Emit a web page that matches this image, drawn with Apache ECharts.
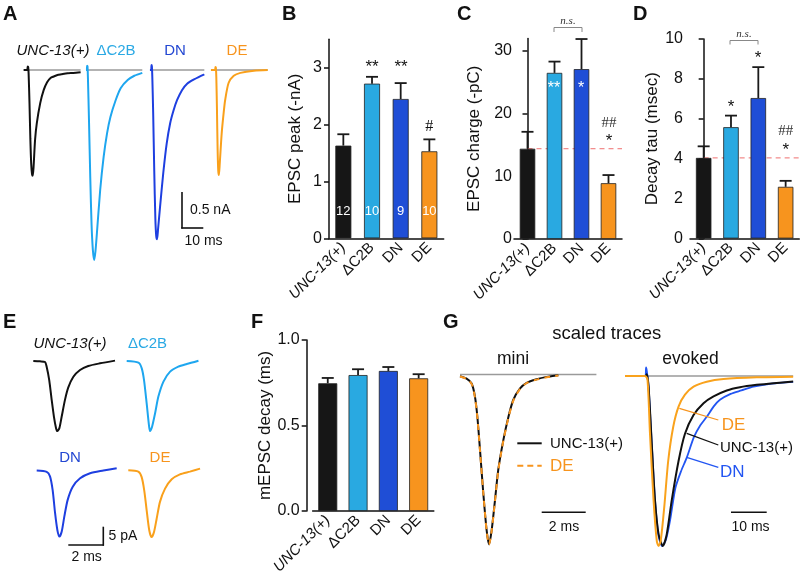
<!DOCTYPE html>
<html><head><meta charset="utf-8">
<script src="https://cdn.jsdelivr.net/npm/echarts@6/dist/echarts.min.js"></script>
<style>html,body{margin:0;padding:0;background:#fff}#c{width:800px;height:573px}</style>
</head><body><div id="c"></div>
<script>
// ---------- DATA ----------
const groups = ['UNC-13(+)', 'ΔC2B', 'DN', 'DE'];
const nCells = [12, 10, 9, 10];
const peakMean = [1.63, 2.72, 2.45, 1.53];
const peakSem = [0.20, 0.12, 0.28, 0.21];
const chargeMean = [14.4, 26.5, 27.1, 8.9];
const chargeSem = [2.7, 1.8, 4.8, 1.3];
const tauMean = [4.04, 5.58, 7.04, 2.59];
const tauSem = [0.58, 0.58, 1.55, 0.30];
const mDecayMean = [0.747, 0.795, 0.819, 0.776];
const mDecaySem = [0.031, 0.034, 0.023, 0.024];
const peakTicks = [0, 1, 2, 3];
const chargeTicks = [0, 10, 20, 30];
const tauTicks = [0, 2, 4, 6, 8, 10];
const mDecayTicks = [0, 0.5, 1.0];

// Panel A: evoked EPSC traces (time ms from stimulus, current nA)
const uncEPSC = [[-2.0,0],[-0.4,0],[-0.1,0.05],[0.1,0.04],[0.3,-0.05],[0.7,-0.45],[1.1,-0.95],[1.5,-1.3],[1.9,-1.45],[2.2,-1.47],[2.6,-1.35],[3.3,-0.97],[4.1,-0.74],[5.7,-0.46],[7.3,-0.28],[8.9,-0.17],[10.5,-0.11],[12.0,-0.09],[13.7,-0.07],[15.5,-0.06],[18.4,-0.045],[21.0,-0.04],[24.5,-0.03]];
const dc2bEPSC = [[-0.6,0],[-0.2,0],[-0.1,0.06],[0.1,0.05],[0.3,-0.1],[0.8,-0.7],[1.4,-1.5],[2.0,-2.15],[2.6,-2.5],[3.2,-2.64],[3.8,-2.52],[4.5,-2.26],[6.0,-1.67],[7.6,-1.21],[9.2,-0.88],[10.8,-0.65],[13.2,-0.42],[15.6,-0.25],[18.8,-0.14],[21.9,-0.08],[25.6,-0.04]];
const dnEPSC = [[-0.8,0],[-0.2,0],[-0.1,0.07],[0.1,0.05],[0.3,-0.1],[0.7,-0.6],[1.2,-1.4],[1.7,-2.05],[2.1,-2.3],[2.5,-2.35],[3.0,-2.2],[3.9,-1.9],[5.4,-1.43],[7.0,-1.02],[8.6,-0.74],[10.2,-0.56],[11.8,-0.42],[14.1,-0.28],[16.5,-0.19],[19.7,-0.13],[24.5,-0.06]];
const deEPSC = [[-2.2,0],[-0.3,0],[-0.1,0.04],[0.1,0.03],[0.3,-0.1],[0.6,-0.55],[0.9,-1.1],[1.2,-1.4],[1.5,-1.46],[1.9,-1.3],[2.8,-0.88],[3.7,-0.6],[4.4,-0.42],[6.0,-0.18],[8.4,-0.08],[11.5,-0.04],[17.8,-0.01],[24.2,0]];

// Panel E: mEPSC traces (time ms, current pA)
const uncMini = [[0,0],[0.38,-0.1],[0.67,-0.27],[0.76,-1.5],[0.91,-5.2],[1.05,-10.6],[1.18,-15.2],[1.30,-18.3],[1.37,-19.1],[1.49,-18.3],[1.62,-15.2],[1.81,-10.6],[2.0,-7.2],[2.29,-4.3],[2.67,-2.45],[3.14,-1.36],[3.81,-0.64],[4.67,0.1]];
const dc2bMini = [[0,0],[0.67,-0.45],[0.86,-2.0],[0.99,-5.2],[1.14,-11.5],[1.26,-17.0],[1.33,-19.1],[1.45,-17.9],[1.62,-14.3],[1.81,-9.7],[2.10,-5.6],[2.48,-2.9],[2.95,-1.55],[3.43,-0.82],[4.10,0.09]];
const dnMini = [[0,0],[0.57,-0.36],[0.76,-1.6],[0.91,-5.3],[1.05,-11.6],[1.18,-16.2],[1.30,-18.0],[1.43,-16.6],[1.58,-12.5],[1.77,-8.0],[2.06,-4.4],[2.48,-2.1],[3.05,-0.73],[3.81,0],[4.57,0.64]];
const deMini = [[0,0],[0.57,-0.36],[0.76,-1.8],[0.91,-5.45],[1.05,-10.9],[1.20,-16.4],[1.33,-18.2],[1.47,-16.8],[1.62,-13.2],[1.81,-8.6],[2.10,-5.0],[2.48,-2.45],[2.95,-1.1],[3.52,-0.36],[4.10,0.45]];

// Panel G: scaled traces (time ms, normalized amplitude)
const miniBaseline = [[0,0],[6.2,0]];
const uncMiniScaled = [[0,-0.01],[0.30,-0.024],[0.53,-0.053],[0.68,-0.13],[0.79,-0.25],[0.91,-0.445],[1.06,-0.70],[1.21,-0.916],[1.32,-1.0],[1.44,-0.916],[1.59,-0.74],[1.74,-0.56],[1.97,-0.386],[2.20,-0.25],[2.42,-0.15],[2.73,-0.082],[3.03,-0.049],[3.48,-0.028],[3.94,-0.014],[4.47,-0.004]];
const deMiniScaled = [[0,-0.012],[0.30,-0.026],[0.53,-0.055],[0.68,-0.135],[0.79,-0.255],[0.91,-0.45],[1.06,-0.70],[1.21,-0.92],[1.32,-1.0],[1.44,-0.92],[1.59,-0.745],[1.74,-0.565],[1.97,-0.39],[2.20,-0.255],[2.42,-0.155],[2.73,-0.085],[3.03,-0.05],[3.48,-0.03],[3.94,-0.016],[4.47,-0.006]];
const evokedBaseline = [[-6.1,0],[41,0]];
const uncEvoked = [[-6.1,0],[-0.3,0],[0,0.01],[0.5,-0.06],[1.4,-0.40],[2.3,-0.73],[3.3,-0.93],[4.5,-1.0],[5.6,-0.93],[7.0,-0.73],[8.9,-0.50],[10.7,-0.34],[13.1,-0.23],[15.9,-0.16],[18.7,-0.12],[22.4,-0.085],[26.1,-0.066],[30.8,-0.052],[35.5,-0.042],[41,-0.033]];
const dnEvoked = [[-6.1,0],[-0.4,0],[-0.2,0.05],[0,0.03],[0.5,-0.06],[1.4,-0.40],[2.3,-0.73],[3.3,-0.94],[4.3,-1.0],[5.4,-0.96],[6.6,-0.84],[8.0,-0.66],[9.6,-0.56],[11.2,-0.48],[13.2,-0.36],[15.0,-0.29],[16.8,-0.24],[18.7,-0.18],[20.5,-0.14],[23.5,-0.105],[26.5,-0.085],[29.9,-0.063],[35,-0.045],[41,-0.034]];
const deEvoked = [[-6.1,0],[-0.5,0],[0.2,-0.02],[0.9,-0.34],[1.9,-0.73],[2.8,-0.97],[3.3,-1.0],[3.9,-0.97],[4.9,-0.77],[6.0,-0.50],[7.4,-0.30],[8.9,-0.18],[10.7,-0.11],[13.1,-0.063],[16.8,-0.034],[21.5,-0.018],[30.8,-0.008],[41,-0.004]];

// ---------- STYLE ----------
const FONT = '"Liberation Sans", Arial, Helvetica, sans-serif';
const SERIF = '"Liberation Serif", "Times New Roman", serif';
const barColors = ['#161616', '#29a9e1', '#1f4ed6', '#f7941e'];
const traceColors = ['#111111', '#1ea6ef', '#1e3fe0', '#f9a01b'];
const labelColors = ['#111111', '#2aa9e4', '#2347d2', '#f7941d'];
const GRAY = '#9a9a9a';

const grids = [], xAxes = [], yAxes = [], series = [], graphics = [];
function addGrid(g) { grids.push(Object.assign({ outerBoundsMode: 'none', containLabel: false }, g)); return grids.length - 1; }

function errRender(params, api) {
  const i = api.value(0), m = api.value(1), s = api.value(2);
  const base = api.coord([i, m]);
  const top = api.coord([i, m + s]);
  const hw = 6;
  const st = { stroke: '#1a1a1a', lineWidth: 1.8 };
  return { type: 'group', children: [
    { type: 'line', shape: { x1: base[0], y1: base[1], x2: top[0], y2: top[1] }, style: st },
    { type: 'line', shape: { x1: top[0] - hw, y1: top[1], x2: top[0] + hw, y2: top[1] }, style: st }
  ]};
}

function barPanel(cfg) {
  const gi = addGrid({ left: cfg.left, top: cfg.top, width: cfg.width, height: cfg.height });
  const xi = xAxes.length;
  xAxes.push({
    type: 'category', gridIndex: gi, data: groups,
    axisLine: { lineStyle: { color: '#111', width: 1.5 } },
    axisTick: { show: false },
    axisLabel: {
      rotate: 45, interval: 0, margin: 7, fontSize: 15, color: '#111', fontFamily: FONT,
      formatter: v => v === 'UNC-13(+)' ? '{it|' + v + '}' : v,
      rich: { it: { fontStyle: 'italic', fontSize: 15, color: '#111', fontFamily: FONT } }
    }
  });
  const yi = yAxes.length;
  yAxes.push({
    type: 'value', gridIndex: gi, min: 0, max: cfg.max, offset: cfg.offset || 0,
    axisLine: { show: true, lineStyle: { color: '#111', width: 1.5 } },
    axisTick: { show: true, length: 5, lineStyle: { color: '#111', width: 1.5 }, customValues: cfg.ticks },
    axisLabel: { customValues: cfg.ticks, fontSize: 16, color: '#111', fontFamily: FONT, margin: 7,
      formatter: cfg.fmt || (v => String(v)) },
    splitLine: { show: false },
    name: cfg.name, nameLocation: 'middle', nameGap: cfg.nameGap,
    nameTextStyle: { fontSize: 17, color: '#111', fontFamily: FONT }
  });
  series.push({
    type: 'bar', xAxisIndex: xi, yAxisIndex: yi, barWidth: cfg.barWidth, z: 3,
    data: cfg.mean.map((v, i) => ({ value: v, itemStyle: { color: barColors[i] } })),
    itemStyle: { borderColor: '#222', borderWidth: 0.8 },
    label: cfg.label || { show: false }
  });
  series.push({
    type: 'custom', xAxisIndex: xi, yAxisIndex: yi, renderItem: errRender, z: 4,
    encode: { x: 0, y: 1 },
    data: cfg.mean.map((v, i) => [i, v, cfg.sem[i]])
  });
  if (cfg.refLine) {
    const hx = xAxes.length;
    xAxes.push({ type: 'value', gridIndex: gi, min: -0.5, max: 3.5, show: false });
    series.push({
      type: 'line', xAxisIndex: hx, yAxisIndex: yi, z: 1, symbol: 'none',
      data: [[0, cfg.mean[0]], [3.5, cfg.mean[0]]],
      lineStyle: { color: '#ef6f6f', width: 1, type: [5, 4] }
    });
  }
}

// B
barPanel({ left: 329, top: 39.3, width: 114.7, height: 199, max: 3.5, ticks: peakTicks, mean: peakMean, sem: peakSem,
  name: 'EPSC peak (-nA)', nameGap: 25, barWidth: 16,
  label: { show: true, position: 'insideBottom', distance: 20, color: '#fff', fontSize: 13, fontFamily: FONT,
    formatter: p => String(nCells[p.dataIndex]) } });
// C
barPanel({ left: 514, top: 38.4, width: 108, height: 200.6, max: 32, offset: -5, ticks: chargeTicks, mean: chargeMean, sem: chargeSem,
  name: 'EPSC charge (-pC)', nameGap: 36, barWidth: 15.5, refLine: true });
// D
barPanel({ left: 690, top: 39, width: 109.3, height: 199.5, max: 10, ticks: tauTicks, mean: tauMean, sem: tauSem,
  name: 'Decay tau (msec)', nameGap: 29, barWidth: 15.5, refLine: true });
// F
barPanel({ left: 312.6, top: 340, width: 121.2, height: 171, max: 1.0, offset: 5.9, ticks: mDecayTicks, mean: mDecayMean, sem: mDecaySem,
  name: 'mEPSC decay (ms)', nameGap: 33, barWidth: 19, fmt: v => v.toFixed(1) });

function tracePanel(cfg) {
  const gi = addGrid({ left: cfg.left, top: cfg.top, width: cfg.width, height: cfg.height });
  const xi = xAxes.length;
  xAxes.push({ type: 'value', gridIndex: gi, min: cfg.xmin, max: cfg.xmax, show: false });
  const yi = yAxes.length;
  yAxes.push({ type: 'value', gridIndex: gi, min: cfg.ymin, max: cfg.ymax, show: false });
  cfg.lines.forEach((ln, k) => {
    series.push({
      type: 'line', xAxisIndex: xi, yAxisIndex: yi, data: ln.data, symbol: 'none',
      smooth: ln.smooth === undefined ? 0.25 : ln.smooth, z: ln.z || (5 + k), clip: false,
      lineStyle: { color: ln.color, width: ln.width || 2, type: ln.type || 'solid' }
    });
  });
}
function baselineOf(d) { return [[d[0][0], 0], [d[d.length - 1][0], 0]]; }

// A: 2.15 px/ms, 72 px/nA, baseline y=70
const aTraces = [uncEPSC, dc2bEPSC, dnEPSC, deEPSC];
const aLeft = [22.6, 81.9, 146.3, 210.3];
aTraces.forEach((d, i) => {
  tracePanel({ left: aLeft[i], top: 55.6, width: 59.1, height: 216, xmin: -2.5, xmax: 25, ymin: -2.8, ymax: 0.2,
    lines: [
      { data: baselineOf(d), color: GRAY, width: 1.6, smooth: false, z: 4 },
      { data: d, color: traceColors[i], width: 2 }
    ] });
});

// E: 17.5 px/ms, 3.67 px/pA
const eTraces = [uncMini, dc2bMini, dnMini, deMini];
const eLeft = [33.3, 126.7, 36.7, 128.3];
const eBase = [361, 361, 470.5, 470.3];
eTraces.forEach((d, i) => {
  tracePanel({ left: eLeft[i], top: eBase[i] - 2 * 3.67, width: 87.5, height: 24 * 3.67, xmin: 0, xmax: 5, ymin: -22, ymax: 2,
    lines: [{ data: d, color: traceColors[i], width: 2 }] });
});

// G mini: 22 px/ms, 170 px per unit
tracePanel({ left: 460, top: 374.5 - 0.05 * 170, width: 6.2 * 22, height: 1.07 * 170, xmin: 0, xmax: 6.2, ymin: -1.02, ymax: 0.05,
  lines: [
    { data: miniBaseline, color: GRAY, width: 1.5, smooth: false, z: 4 },
    { data: uncMiniScaled, color: '#111', width: 2 },
    { data: deMiniScaled, color: '#f7941d', width: 2, type: [6, 5] }
  ] });
// G evoked: 3.57 px/ms
tracePanel({ left: 625, top: 376 - 0.05 * 170, width: 47.1 * 3.57, height: 1.07 * 170, xmin: -6.1, xmax: 41, ymin: -1.02, ymax: 0.05,
  lines: [
    { data: evokedBaseline, color: GRAY, width: 1.5, smooth: false, z: 4 },
    { data: dnEvoked, color: '#2255f2', width: 1.8 },
    { data: uncEvoked, color: '#111', width: 2 },
    { data: deEvoked, color: '#f9a21c', width: 2 }
  ] });

// ---------- ANNOTATIONS ----------
function txt(x, y, text, o) {
  o = o || {};
  graphics.push({ type: 'text', x: x, y: y, z: 50, style: {
    text: text, fill: o.fill || '#111', fontSize: o.size || 15, fontFamily: o.family || FONT,
    fontWeight: o.weight || 'normal', fontStyle: o.style || 'normal',
    align: o.align || 'center', verticalAlign: o.va || 'middle' } });
}
function seg(x1, y1, x2, y2, color, w) {
  graphics.push({ type: 'line', z: 50, shape: { x1, y1, x2, y2 }, style: { stroke: color || '#111', lineWidth: w || 1.5 } });
}
function bracket(x1, x2, y, h) {
  graphics.push({ type: 'polyline', z: 50, shape: { points: [[x1, y + h], [x1, y], [x2, y], [x2, y + h]] }, style: { stroke: '#888', lineWidth: 1, fill: null } });
}
// panel letters
[['A', 3, 14], ['B', 282, 14], ['C', 457, 14], ['D', 633, 14], ['E', 3, 322], ['F', 251, 322], ['G', 443, 322]].forEach(l =>
  txt(l[1], l[2], l[0], { size: 20, weight: 'bold', align: 'left' }));

// A labels
txt(53, 50.5, 'UNC-13(+)', { style: 'italic', size: 15 });
txt(116, 50.5, 'ΔC2B', { fill: labelColors[1], size: 15 });
txt(175, 50.5, 'DN', { fill: labelColors[2], size: 15 });
txt(237, 50.5, 'DE', { fill: labelColors[3], size: 15 });
// A scale bar
seg(182, 192, 182, 228.5, '#111', 1.6); seg(181.2, 228, 203.3, 228, '#111', 1.6);
txt(190, 210, '0.5 nA', { size: 14, align: 'left' });
txt(203.5, 241.5, '10 ms', { size: 14 });

// B stars
txt(372, 67, '**', { size: 17 }); txt(401, 67, '**', { size: 17 });
txt(429.3, 126.5, '#', { size: 16, family: SERIF });
// C
bracket(554, 582, 27.5, 4.5); txt(568, 21, 'n.s.', { size: 11, family: SERIF, style: 'italic', fill: '#333' });
txt(554, 89, '**', { size: 16, fill: '#fff' }); txt(581, 89, '*', { size: 16, fill: '#fff' });
txt(609, 123, '##', { size: 15, family: SERIF, fill: '#333' }); txt(609, 141, '*', { size: 17 });
// D
bracket(730, 758, 40.5, 4); txt(744, 34, 'n.s.', { size: 11, family: SERIF, style: 'italic', fill: '#333' });
txt(731, 107, '*', { size: 17 }); txt(758, 58, '*', { size: 17 });
txt(785.7, 131, '##', { size: 15, family: SERIF, fill: '#333' }); txt(785.7, 150, '*', { size: 17 });

// E labels
txt(70, 343.5, 'UNC-13(+)', { style: 'italic', size: 15 });
txt(147.5, 343.5, 'ΔC2B', { fill: labelColors[1], size: 15 });
txt(70, 457.5, 'DN', { fill: labelColors[2], size: 15 });
txt(160, 457.5, 'DE', { fill: labelColors[3], size: 15 });
// E scale bar
seg(103.3, 526.7, 103.3, 545.7, '#111', 1.6); seg(68.3, 545, 104, 545, '#111', 1.6);
txt(108.5, 536, '5 pA', { size: 14, align: 'left' });
txt(86.7, 557, '2 ms', { size: 14 });

// G labels
txt(606.7, 334, 'scaled traces', { size: 18.5 });
txt(513, 359, 'mini', { size: 17.5 });
txt(690.5, 359, 'evoked', { size: 17.5 });
// mini legend
seg(517.3, 443.3, 541.7, 443.3, '#111', 2);
txt(550, 444, 'UNC-13(+)', { size: 15, align: 'left' });
graphics.push({ type: 'line', z: 50, shape: { x1: 517.3, y1: 465.7, x2: 541.7, y2: 465.7 }, style: { stroke: '#f7941d', lineWidth: 2, lineDash: [6, 4] } });
txt(550, 466, 'DE', { size: 17, align: 'left', fill: '#f7941d' });
// mini scale
seg(541.7, 512.3, 585.7, 512.3, '#111', 1.6); txt(564, 527.5, '2 ms', { size: 14 });
// evoked pointers & labels
seg(679.3, 408.3, 718.3, 420, '#f7941d', 1.3); txt(721.7, 425, 'DE', { size: 17, align: 'left', fill: '#f7941d' });
seg(686.7, 433.3, 718.3, 445, '#111', 1.3); txt(720, 448, 'UNC-13(+)', { size: 15, align: 'left' });
seg(686.7, 457.3, 718.3, 467.3, '#2255f2', 1.3); txt(720, 472.5, 'DN', { size: 17, align: 'left', fill: '#2255f2' });
// evoked scale
seg(731, 512.3, 766.7, 512.3, '#111', 1.6); txt(750.5, 527.5, '10 ms', { size: 14 });

const chart = echarts.init(document.getElementById('c'), null, { renderer: 'canvas' });
chart.setOption({
  animation: false,
  backgroundColor: '#fff',
  textStyle: { fontFamily: FONT },
  grid: grids, xAxis: xAxes, yAxis: yAxes, series: series, graphic: graphics
});
</script></body></html>
